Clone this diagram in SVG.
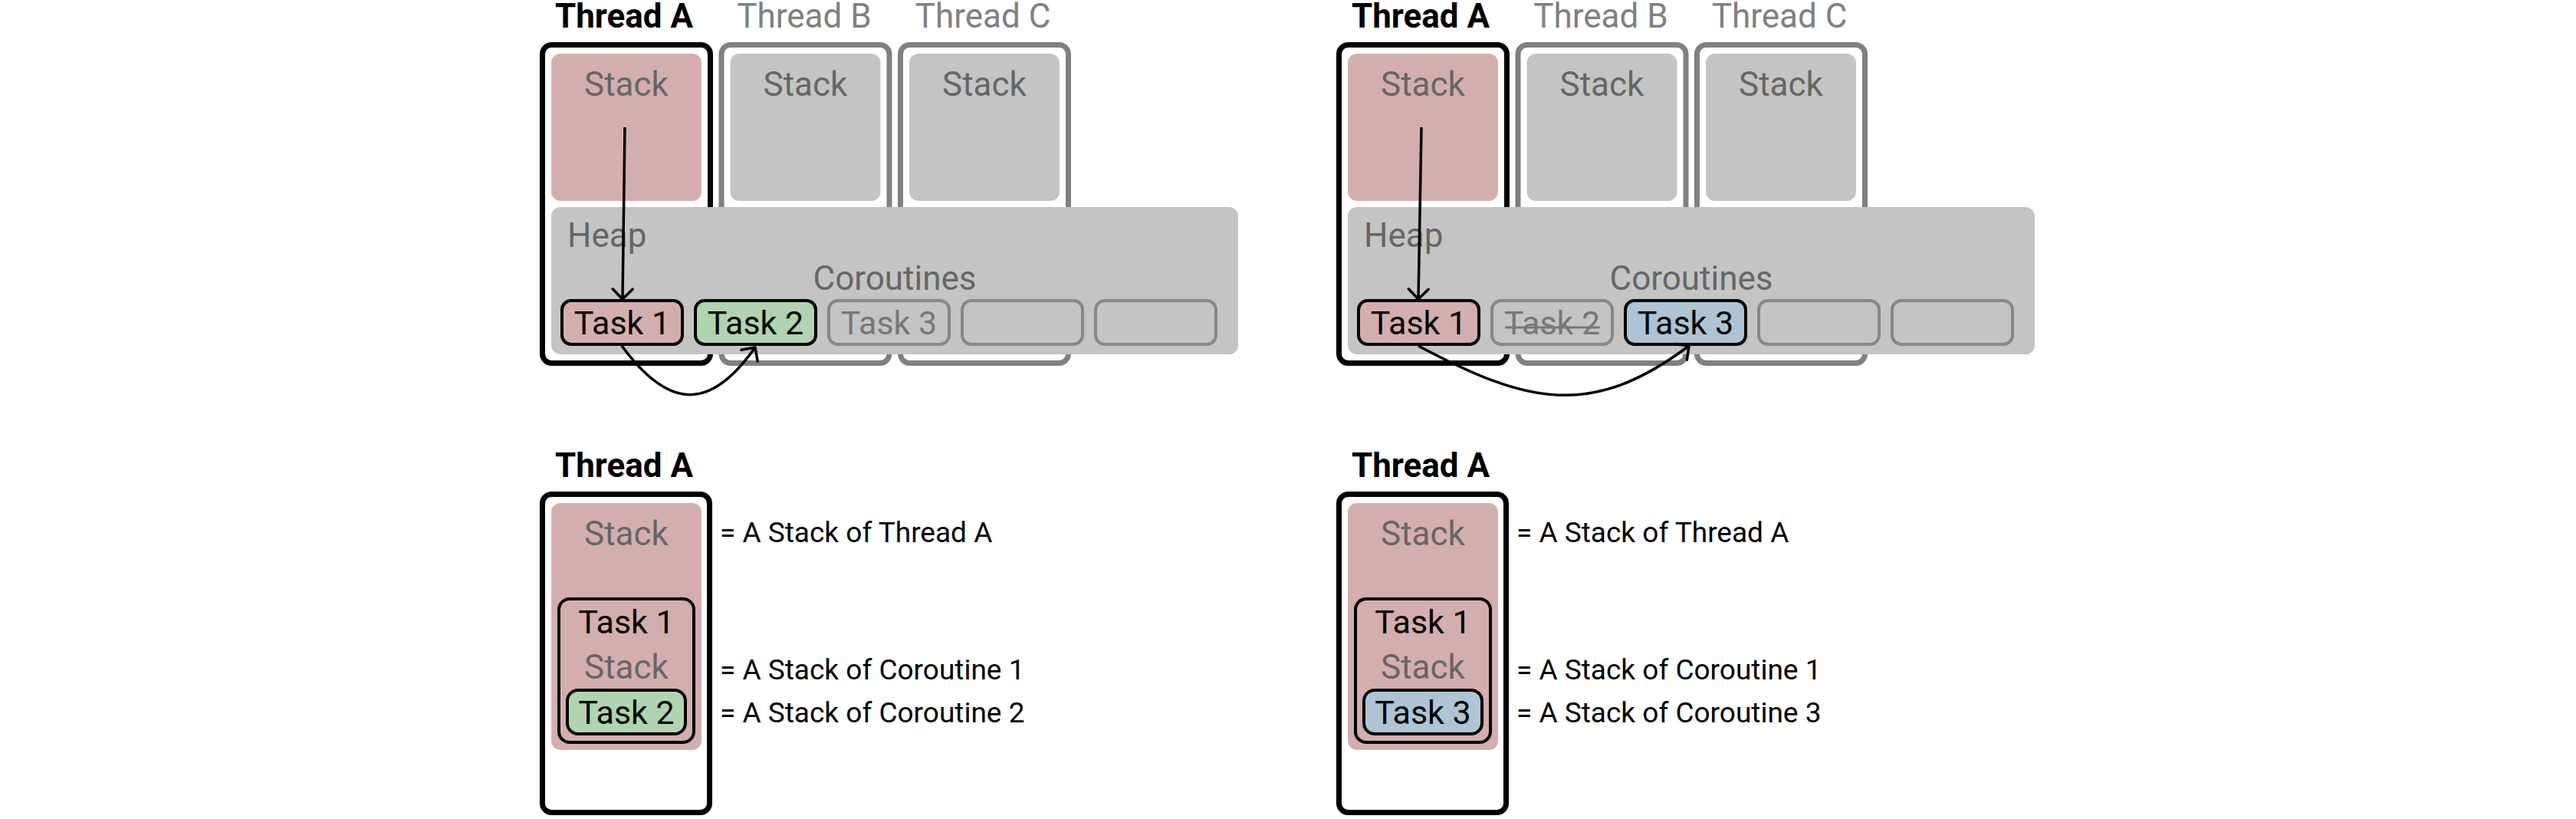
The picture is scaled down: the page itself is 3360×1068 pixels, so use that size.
<svg xmlns="http://www.w3.org/2000/svg" width="3360" height="1068" viewBox="0 0 3360 1068">
<style>
text{font-family:Roboto,"Liberation Sans",sans-serif}
.bg{fill:#ffffff}
.thA{fill:#000;font-size:44px;font-weight:700;text-anchor:middle}
.thG{fill:#808080;font-size:44px;text-anchor:middle}
.boxA{fill:#fff;stroke:#000;stroke-width:7}
.boxG{fill:#fff;stroke:#808080;stroke-width:7}
.stkR{fill:#d4aeae}
.stkG{fill:#c4c4c4}
.heap{fill:#c4c4c4}
.lbl{fill:#666;font-size:44px}
.mid{text-anchor:middle}
.task{stroke:#000;stroke-width:4}
.taskG{fill:none;stroke:#888;stroke-width:4}
.red{fill:#d4aeae}
.green{fill:#b0d4b0}
.blue{fill:#aec4d4}
.tt{fill:#000;font-size:43px;text-anchor:middle}
.ttG{fill:#777;font-size:43px;text-anchor:middle}
.strike{stroke:#777;stroke-width:3}
.note{fill:#000;font-size:37px}
.conn{fill:none;stroke:#000;stroke-width:3.5}
</style>
<defs>
<marker id="arr" viewBox="-16 -16 20 32" markerWidth="20" markerHeight="32" refX="0" refY="0" orient="auto" markerUnits="userSpaceOnUse">
<path d="M-13,-13 L0,0 L-13,13" fill="none" stroke="#000" stroke-width="3.5" stroke-linecap="round" stroke-linejoin="round"/>
</marker>
</defs>
<rect class="bg" x="0" y="0" width="3360" height="1068"/>

<!-- ===== Top left panel ===== -->
<g id="L-threadA">
<text class="thA" x="814" y="36">Thread A</text>
<rect class="boxA" x="707.5" y="58.5" width="219" height="415" rx="12"/>
<rect class="stkR" x="719" y="70" width="196" height="192" rx="12"/>
<text class="lbl mid" x="817" y="125">Stack</text>
</g>
<g id="L-threadB">
<text class="thG" x="1049" y="36">Thread B</text>
<rect class="boxG" x="941" y="58.5" width="219" height="415" rx="12"/>
<rect class="stkG" x="952.5" y="70" width="196" height="192" rx="12"/>
<text class="lbl mid" x="1050.5" y="125">Stack</text>
</g>
<g id="L-threadC">
<text class="thG" x="1282" y="36">Thread C</text>
<rect class="boxG" x="1174.5" y="58.5" width="219" height="415" rx="12"/>
<rect class="stkG" x="1186" y="70" width="196" height="192" rx="12"/>
<text class="lbl mid" x="1284" y="125">Stack</text>
</g>
<g id="L-heap">
<rect class="heap" x="719" y="270" width="896" height="192" rx="12"/>
<text class="lbl" x="740" y="322">Heap</text>
<text class="lbl mid" x="1167" y="378">Coroutines</text>
</g>
<g id="L-task1">
<rect class="task red" x="733" y="392" width="157" height="57" rx="12"/>
<text class="tt" x="811.5" y="436">Task 1</text>
</g>
<g id="L-task2">
<rect class="task green" x="907" y="392" width="157" height="57" rx="12"/>
<text class="tt" x="985.5" y="436">Task 2</text>
</g>
<g id="L-task3">
<rect class="taskG" x="1081" y="392" width="157" height="57" rx="12"/>
<text class="ttG" x="1159.5" y="436">Task 3</text>
</g>
<g id="L-slot4"><rect class="taskG" x="1255" y="392" width="157" height="57" rx="12"/></g>
<g id="L-slot5"><rect class="taskG" x="1429" y="392" width="157" height="57" rx="12"/></g>

<!-- ===== Top right panel ===== -->
<g id="R-threadA">
<text class="thA" x="1853" y="36">Thread A</text>
<rect class="boxA" x="1746.5" y="58.5" width="219" height="415" rx="12"/>
<rect class="stkR" x="1758" y="70" width="196" height="192" rx="12"/>
<text class="lbl mid" x="1856" y="125">Stack</text>
</g>
<g id="R-threadB">
<text class="thG" x="2088" y="36">Thread B</text>
<rect class="boxG" x="1980" y="58.5" width="219" height="415" rx="12"/>
<rect class="stkG" x="1991.5" y="70" width="196" height="192" rx="12"/>
<text class="lbl mid" x="2089.5" y="125">Stack</text>
</g>
<g id="R-threadC">
<text class="thG" x="2321" y="36">Thread C</text>
<rect class="boxG" x="2213.5" y="58.5" width="219" height="415" rx="12"/>
<rect class="stkG" x="2225" y="70" width="196" height="192" rx="12"/>
<text class="lbl mid" x="2323" y="125">Stack</text>
</g>
<g id="R-heap">
<rect class="heap" x="1758" y="270" width="896" height="192" rx="12"/>
<text class="lbl" x="1779" y="322">Heap</text>
<text class="lbl mid" x="2206" y="378">Coroutines</text>
</g>
<g id="R-task1">
<rect class="task red" x="1772" y="392" width="157" height="57" rx="12"/>
<text class="tt" x="1850.5" y="436">Task 1</text>
</g>
<g id="R-task2">
<rect class="taskG" x="1946" y="392" width="157" height="57" rx="12"/>
<text class="ttG" x="2024.5" y="436">Task 2</text>
<line class="strike" x1="1963" y1="427" x2="2087" y2="427"/>
</g>
<g id="R-task3">
<rect class="task blue" x="2120" y="392" width="157" height="57" rx="12"/>
<text class="tt" x="2198.5" y="436">Task 3</text>
</g>
<g id="R-slot4"><rect class="taskG" x="2294" y="392" width="157" height="57" rx="12"/></g>
<g id="R-slot5"><rect class="taskG" x="2468" y="392" width="157" height="57" rx="12"/></g>

<!-- ===== Bottom left ===== -->
<g id="BL-threadA">
<text class="thA" x="814" y="622">Thread A</text>
<rect class="boxA" x="707.5" y="644.5" width="218" height="415" rx="12"/>
<rect class="stkR" x="719" y="656" width="196" height="322" rx="12"/>
<text class="lbl mid" x="817" y="711">Stack</text>
</g>
<g id="BL-task1">
<rect class="task" fill="none" x="729" y="781" width="176" height="187" rx="14"/>
<text class="tt" x="817" y="826">Task 1</text>
<text class="lbl mid" x="817" y="885">Stack</text>
</g>
<g id="BL-task2">
<rect class="task green" x="740" y="900" width="154" height="57" rx="14"/>
<text class="tt" x="817" y="944">Task 2</text>
</g>
<g id="BL-notes">
<text class="note" x="939" y="707">= A Stack of Thread A</text>
<text class="note" x="939" y="886">= A Stack of Coroutine 1</text>
<text class="note" x="939" y="942">= A Stack of Coroutine 2</text>
</g>

<!-- ===== Bottom right ===== -->
<g id="BR-threadA">
<text class="thA" x="1853" y="622">Thread A</text>
<rect class="boxA" x="1746.5" y="644.5" width="218" height="415" rx="12"/>
<rect class="stkR" x="1758" y="656" width="196" height="322" rx="12"/>
<text class="lbl mid" x="1856" y="711">Stack</text>
</g>
<g id="BR-task1">
<rect class="task" fill="none" x="1768" y="781" width="176" height="187" rx="14"/>
<text class="tt" x="1856" y="826">Task 1</text>
<text class="lbl mid" x="1856" y="885">Stack</text>
</g>
<g id="BR-task3">
<rect class="task blue" x="1779" y="900" width="154" height="57" rx="14"/>
<text class="tt" x="1856" y="944">Task 3</text>
</g>
<g id="BR-notes">
<text class="note" x="1978" y="707">= A Stack of Thread A</text>
<text class="note" x="1978" y="886">= A Stack of Coroutine 1</text>
<text class="note" x="1978" y="942">= A Stack of Coroutine 3</text>
</g>

<!-- ===== Connectors ===== -->
<g id="connectors">
<path class="conn" d="M815,166 L812,390" marker-end="url(#arr)"/>
<path class="conn" d="M811,451 C872,534 926,537 985,453" marker-end="url(#arr)"/>
<path class="conn" d="M1854,166 L1850,390" marker-end="url(#arr)"/>
<path class="conn" d="M1850,451 C1991,526 2075,547 2203,451" marker-end="url(#arr)"/>
</g>
</svg>
